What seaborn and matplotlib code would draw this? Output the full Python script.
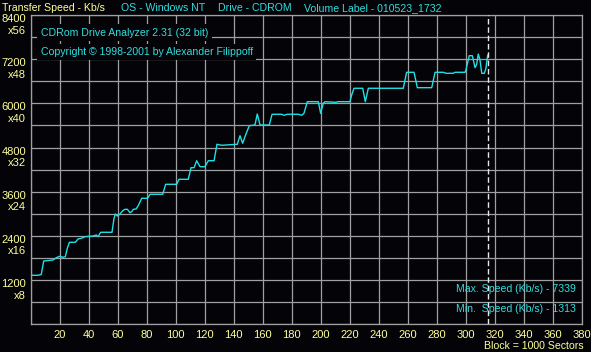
import numpy as np
import pandas as pd
import matplotlib
matplotlib.use("Agg")
import matplotlib.pyplot as plt
import matplotlib.transforms as mtransforms
import seaborn as sns

# ---- data ----
block = [0, 5, 7.4, 9.1, 15.5, 17.8, 20.1, 22.4, 24, 25.4, 26.8, 30.9, 32.8, 35,
         37.8, 43.1, 45.4, 46.6, 48.4, 56.2, 57.6, 58.5, 59.9, 61.7, 63.6, 65.2,
         66.8, 68.6, 69.8, 70.9, 72.8, 74.3, 76.7, 80.8, 82.4, 91.2, 93.2, 100.8,
         102.4, 108.8, 110.7, 112.8, 114.6, 116.9, 120.3, 122.6, 126.6, 128.6,
         131.9, 142.6, 144.5, 146.3, 148.6, 150.9, 154.8, 156.4, 158.3, 164.7,
         166.6, 173.2, 174.8, 177.1, 184.7, 187, 188.6, 190.9, 198.5, 200.1,
         201.9, 203.1, 210.7, 212, 220.3, 221.5, 223.1, 229.1, 230.9, 233, 257.1,
         259.4, 264.5, 266.8, 276.7, 279, 284.7, 286.6, 291.6, 292.8, 299.7,
         300.3, 302.6, 304.7, 306.6, 307.7, 308.8, 310, 311.2, 313, 314.1, 315.3]
speed = [1331, 1331, 1350, 1719, 1746, 1809, 1847, 1820, 1836, 2064, 2227, 2227,
         2317, 2336, 2380, 2398, 2425, 2380, 2499, 2499, 2879, 2996, 2941, 2996,
         3085, 3123, 3123, 3031, 3058, 3123, 3131, 3221, 3422, 3422, 3531, 3531,
         3802, 3802, 3938, 3938, 4253, 4253, 4443, 4280, 4280, 4443, 4443, 4889,
         4862, 4889, 5122, 4916, 5168, 5394, 5413, 5712, 5413, 5413, 5704, 5704,
         5676, 5704, 5704, 5676, 5730, 6046, 6046, 5730, 6002, 6046, 6029, 6046,
         6046, 6228, 6410, 6410, 6046, 6410, 6410, 6844, 6844, 6426, 6426, 6844,
         6844, 6817, 6817, 6844, 6844, 6907, 7295, 7295, 6969, 7061, 7339, 7178,
         6817, 6817, 6953, 7314]

x_ticks = list(range(0, 381, 20))
x_tick_labels = [""] + [str(v) for v in range(20, 381, 20)]
y_label_values = [1200, 2400, 3600, 4800, 6000, 7200, 8400]
y_label_speeds = ["x8", "x16", "x24", "x32", "x40", "x48", "x56"]
end_marker = 315.7

header_texts = ["Transfer Speed - Kb/s", "OS - Windows NT", "Drive - CDROM",
                "Volume Label - 010523_1732"]
info_lines = ["CDRom Drive Analyzer 2.31 (32 bit)",
              "Copyright \u00a9 1998-2001 by Alexander Filippoff"]
stats_lines = ["Max. Speed (Kb/s) - 7339", "Min.  Speed (Kb/s) - 1313"]
unit_text = "Block = 1000 Sectors"

# ---- style ----
BG = "#040307"
GRID = "#a0a0a0"
CYAN = "#30dede"
LINE = "#1ee0e6"
YELLOW = "#ffff9a"
FS = 7.6

sns.set_style("dark")
plt.rcParams["font.family"] = ["Liberation Sans", "DejaVu Sans"]

W, H = 591, 352
fig = plt.figure(figsize=(W / 100, H / 100), dpi=100, facecolor=BG)
ax = fig.add_axes([30.5 / W, 1 - 324.3 / H, 551 / W, 309.3 / H])
ax.set_facecolor(BG)

df = pd.DataFrame({"block": block, "speed": speed})
sns.lineplot(data=df, x="block", y="speed", ax=ax, color=LINE, linewidth=1.0,
             errorbar=None, sort=False, zorder=3)

ax.axvline(end_marker, color="#e8e8e8", linewidth=1.0, linestyle=(0, (4, 2)), zorder=4)

ax.set_xlim(0, 380)
ax.set_ylim(0, 8400)
ax.set_xticks(x_ticks)
ax.set_xticklabels(x_tick_labels)
ax.set_yticks(np.arange(0, 8401, 600))
ax.set_yticklabels([])
ax.tick_params(axis="x", length=0, pad=4, colors=YELLOW, labelsize=FS + 0.4)
ax.tick_params(axis="y", length=0)
ax.grid(True, color=GRID, linewidth=0.9)
ax.set_axisbelow(True)
for s in ax.spines.values():
    s.set_visible(True)
    s.set_color(GRID)
    s.set_linewidth(0.9)
ax.set_xlabel("")
ax.set_ylabel("")

# y labels
for v, lab in zip(y_label_values, y_label_speeds):
    t1 = mtransforms.offset_copy(ax.get_yaxis_transform(), fig=fig, x=-4.5 * 0.72, y=-4 * 0.72, units="points")
    t2 = mtransforms.offset_copy(ax.get_yaxis_transform(), fig=fig, x=-4.5 * 0.72, y=-15.5 * 0.72, units="points")
    ax.text(0, v, str(v), transform=t1, ha="right", va="center", color=YELLOW, fontsize=FS + 0.4, clip_on=False)
    ax.text(0, v, lab, transform=t2, ha="right", va="center", color=YELLOW, fontsize=FS + 0.4, clip_on=False)

def figtext_px(x, y, s, color, ha="left", **kw):
    fig.text(x / W, 1 - y / H, s, color=color, ha=ha, va="center", fontsize=FS, **kw)

header_x = [2, 120.7, 218.3, 304]
header_col = [YELLOW, CYAN, CYAN, CYAN]
for hx, s, c in zip(header_x, header_texts, header_col):
    figtext_px(hx, 8, s, c)

for iy, s in zip([32.5, 52], info_lines):
    fig.text(40.7 / W, 1 - iy / H, s, color=CYAN, ha="left", va="center", fontsize=FS,
             bbox=dict(facecolor=BG, edgecolor="none", pad=2.5), zorder=5)

for iy, s in zip([289.5, 309.5], stats_lines):
    figtext_px(576, iy, s, CYAN, ha="right")

figtext_px(584, 346, unit_text, YELLOW, ha="right")

fig.savefig("out.png", dpi=100, facecolor=BG)
